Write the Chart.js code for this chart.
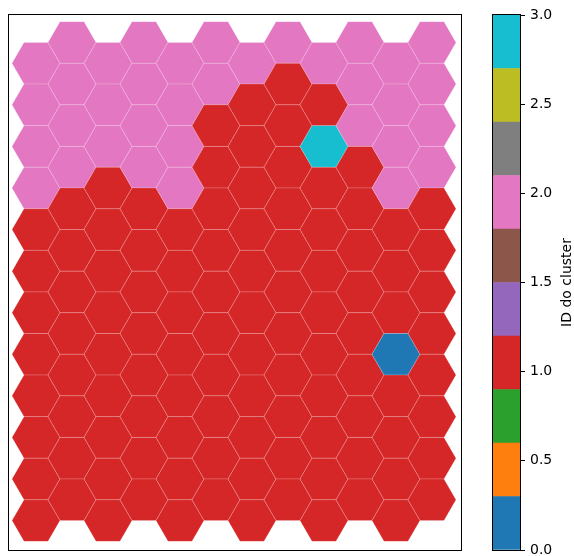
<!DOCTYPE html>
<html>
<head>
<meta charset="utf-8">
<script src="https://cdn.jsdelivr.net/npm/chart.js@4/dist/chart.umd.min.js"></script>
<style>
  html, body { margin: 0; padding: 0; background: #ffffff; }
  #wrap { position: relative; width: 574px; height: 556px; }
  #mapBox { position: absolute; left: 0; top: 0; width: 470px; height: 556px; }
  #barBox { position: absolute; left: 470px; top: 0; width: 104px; height: 556px; }
</style>
</head>
<body>
<div id="wrap">
  <div id="mapBox"><canvas id="map"></canvas></div>
  <div id="barBox"><canvas id="cbar"></canvas></div>
</div>
<script>
// Cluster ID of every SOM node, one array per column (left to right), rows top to bottom.
const col0  = [2, 2, 2, 2, 1, 1, 1, 1, 1, 1, 1, 1];
const col1  = [2, 2, 2, 2, 1, 1, 1, 1, 1, 1, 1, 1];
const col2  = [2, 2, 2, 1, 1, 1, 1, 1, 1, 1, 1, 1];
const col3  = [2, 2, 2, 2, 1, 1, 1, 1, 1, 1, 1, 1];
const col4  = [2, 2, 2, 2, 1, 1, 1, 1, 1, 1, 1, 1];
const col5  = [2, 2, 1, 1, 1, 1, 1, 1, 1, 1, 1, 1];
const col6  = [2, 1, 1, 1, 1, 1, 1, 1, 1, 1, 1, 1];
const col7  = [2, 1, 1, 1, 1, 1, 1, 1, 1, 1, 1, 1];
const col8  = [2, 1, 3, 1, 1, 1, 1, 1, 1, 1, 1, 1];
const col9  = [2, 2, 2, 1, 1, 1, 1, 1, 1, 1, 1, 1];
const col10 = [2, 2, 2, 2, 1, 1, 1, 0, 1, 1, 1, 1];
const col11 = [2, 2, 2, 2, 1, 1, 1, 1, 1, 1, 1, 1];
const clusterColumns = [col0, col1, col2, col3, col4, col5, col6, col7, col8, col9, col10, col11];

// Colour bar range and ticks
const colorbarMin = 0;
const colorbarMax = 3;
const colorbarTicks = [0, 0.5, 1.0, 1.5, 2.0, 2.5, 3.0];
const colorbarLabel = 'ID do cluster';

// tab10 palette
const tab10 = ['#1f77b4', '#ff7f0e', '#2ca02c', '#d62728', '#9467bd',
               '#8c564b', '#e377c2', '#7f7f7f', '#bcbd22', '#17becf'];

function colorFor(v) {
  const t = (v - colorbarMin) / (colorbarMax - colorbarMin);
  const i = Math.min(tab10.length - 1, Math.max(0, Math.floor(t * tab10.length)));
  return tab10[i];
}

// Hex centres: even columns sit half a row lower.
const hexPoints = [];
clusterColumns.forEach((col, c) => {
  col.forEach((id, r) => {
    hexPoints.push({ x: c, y: r + (c % 2 === 0 ? 0.5 : 0), id: id });
  });
});

const FONT = "'DejaVu Sans', sans-serif";

// Draws a flat-topped hexagon around each point, sized from the scales.
const hexPlugin = {
  id: 'hexCells',
  afterDatasetsDraw(chart) {
    const ctx = chart.ctx;
    const xs = chart.scales.x, ys = chart.scales.y;
    const R = Math.abs(xs.getPixelForValue(1) - xs.getPixelForValue(0)) / 1.5;
    const h = Math.abs(ys.getPixelForValue(1) - ys.getPixelForValue(0)) / 2;
    const meta = chart.getDatasetMeta(0);
    ctx.save();
    meta.data.forEach((el, i) => {
      const p = chart.data.datasets[0].data[i];
      const cx = el.x, cy = el.y;
      ctx.beginPath();
      ctx.moveTo(cx + R, cy);
      ctx.lineTo(cx + R / 2, cy + h);
      ctx.lineTo(cx - R / 2, cy + h);
      ctx.lineTo(cx - R, cy);
      ctx.lineTo(cx - R / 2, cy - h);
      ctx.lineTo(cx + R / 2, cy - h);
      ctx.closePath();
      ctx.fillStyle = colorFor(p.id);
      ctx.fill();
      ctx.strokeStyle = 'rgba(255,255,255,0.22)';
      ctx.lineWidth = 0.8;
      ctx.stroke();
    });
    ctx.restore();
  }
};

// Black frame around a chart area
const framePlugin = {
  id: 'frame',
  afterDraw(chart) {
    const a = chart.chartArea;
    const ctx = chart.ctx;
    ctx.save();
    ctx.strokeStyle = '#000000';
    ctx.lineWidth = 1;
    ctx.strokeRect(Math.round(a.left) - 0.5, Math.round(a.top) - 0.5,
                   Math.round(a.right - a.left) + 1, Math.round(a.bottom - a.top) + 1);
    ctx.restore();
  }
};

new Chart(document.getElementById('map'), {
  type: 'scatter',
  data: {
    datasets: [{
      data: hexPoints,
      pointRadius: 0,
      pointHoverRadius: 0
    }]
  },
  options: {
    responsive: true,
    maintainAspectRatio: false,
    animation: false,
    events: [],
    layout: { padding: { left: 9, right: 9, top: 15, bottom: 6 } },
    plugins: { legend: { display: false }, tooltip: { enabled: false } },
    scales: {
      x: { type: 'linear', display: false, min: -0.75, max: 11.806 },
      y: { type: 'linear', display: false, reverse: true, min: -0.6615, max: 12.208 }
    }
  },
  plugins: [hexPlugin, framePlugin]
});

// Colour bar: one floating bar per palette band
const bandSize = (colorbarMax - colorbarMin) / tab10.length;
const bandDatasets = tab10.map((col, i) => ({
  data: [[colorbarMin + i * bandSize, colorbarMin + (i + 1) * bandSize]],
  backgroundColor: col,
  borderWidth: 0,
  grouped: false,
  barPercentage: 1,
  categoryPercentage: 1
}));

const cbarTitlePlugin = {
  id: 'cbarTitle',
  afterDraw(chart) {
    const a = chart.chartArea;
    const ctx = chart.ctx;
    ctx.save();
    ctx.translate(97, (a.top + a.bottom) / 2);
    ctx.rotate(-Math.PI / 2);
    ctx.font = '14px ' + FONT;
    ctx.fillStyle = '#000000';
    ctx.textAlign = 'center';
    ctx.textBaseline = 'middle';
    ctx.fillText(colorbarLabel, 0, 0);
    ctx.restore();
  }
};

new Chart(document.getElementById('cbar'), {
  type: 'bar',
  data: { labels: [''], datasets: bandDatasets },
  options: {
    responsive: true,
    maintainAspectRatio: false,
    animation: false,
    events: [],
    layout: { padding: { left: 23, right: 0, top: 15, bottom: 6 } },
    plugins: { legend: { display: false }, tooltip: { enabled: false } },
    scales: {
      x: { display: false },
      y: {
        position: 'right',
        min: colorbarMin,
        max: colorbarMax,
        afterFit(scale) {
          scale.width = 54;
          scale.paddingTop = 0;
          scale.paddingBottom = 0;
        },
        afterBuildTicks(scale) { scale.ticks = colorbarTicks.map(v => ({ value: v })); },
        ticks: {
          color: '#000000',
          font: { family: FONT, size: 14 },
          padding: 5,
          callback: (v) => Number(v).toFixed(1)
        },
        grid: { display: true, drawOnChartArea: false, drawTicks: true, tickLength: 5, color: '#000000', lineWidth: 1 },
        border: { display: true, color: '#000000', width: 1 }
      }
    }
  },
  plugins: [cbarTitlePlugin, framePlugin]
});
</script>
</body>
</html>
